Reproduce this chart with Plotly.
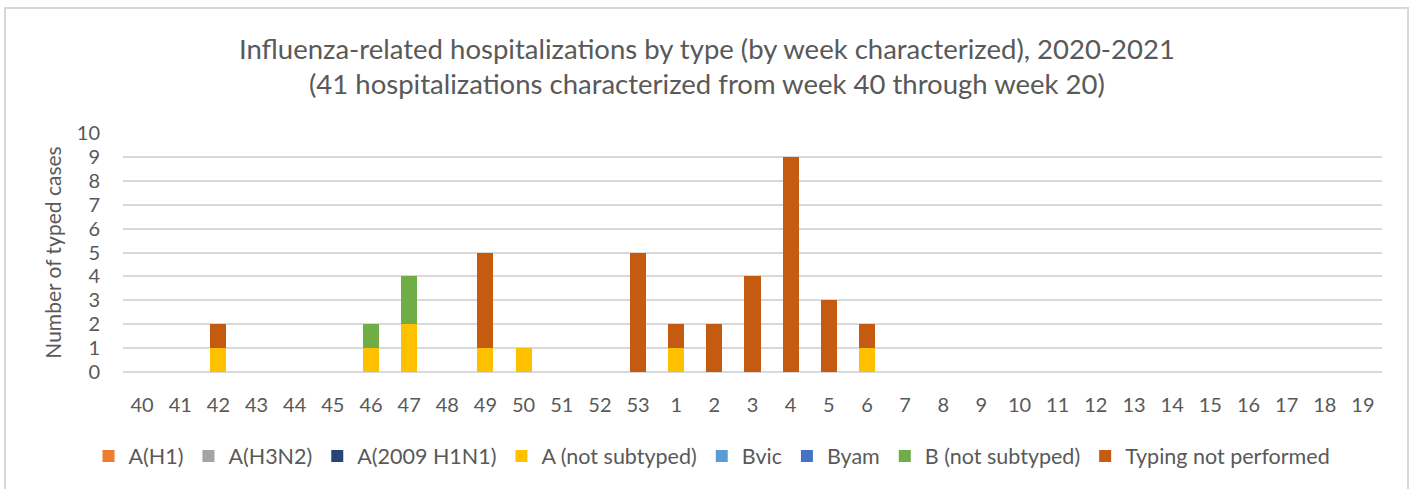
import plotly.graph_objects as go

weeks = ["40", "41", "42", "43", "44", "45", "46", "47", "48", "49", "50", "51", "52", "53",
         "1", "2", "3", "4", "5", "6", "7", "8", "9", "10", "11", "12", "13", "14", "15",
         "16", "17", "18", "19"]

a_h1 =        [0] * 33
a_h3n2 =      [0] * 33
a_2009h1n1 =  [0] * 33
a_not_sub =   [0, 0, 1, 0, 0, 0, 1, 2, 0, 1, 1, 0, 0, 0, 1, 0, 0, 0, 0, 1] + [0] * 13
bvic =        [0] * 33
byam =        [0] * 33
b_not_sub =   [0, 0, 0, 0, 0, 0, 1, 2, 0, 0, 0, 0, 0, 0, 0, 0, 0, 0, 0, 0] + [0] * 13
typing_np =   [0, 0, 1, 0, 0, 0, 0, 0, 0, 4, 0, 0, 0, 5, 1, 2, 4, 9, 3, 1] + [0] * 13

series_names = ["A(H1)", "A(H3N2)", "A(2009 H1N1)", "A (not subtyped)", "Bvic", "Byam",
                "B (not subtyped)", "Typing not performed"]
series_values = [a_h1, a_h3n2, a_2009h1n1, a_not_sub, bvic, byam, b_not_sub, typing_np]
series_colors = ["#ED7D31", "#A5A5A5", "#264478", "#FFC000", "#5B9BD5", "#4472C4",
                 "#70AD47", "#C55A11"]

title_line1 = "Influenza-related hospitalizations by type (by week characterized), 2020-2021"
title_line2 = "(41 hospitalizations characterized from week 40 through week 20)"
y_title = "Number of typed cases"

FONT = "Lato"
GREY = "#595959"

W, H = 1410, 489
L, R, T, B = 123, 28, 133, 117
PW, PH = W - L - R, H - T - B


def px_x(x):
    return (x - L) / PW


def px_y(y):
    return (H - B - y) / PH


fig = go.Figure()
for name, vals, col in zip(series_names, series_values, series_colors):
    fig.add_trace(go.Bar(x=weeks, y=vals, name=name, marker_color=col,
                         marker_line_width=0))

fig.update_layout(
    width=W, height=H,
    margin=dict(l=L, r=R, t=T, b=B, autoexpand=False),
    barmode="stack",
    bargap=0.58,
    plot_bgcolor="white",
    paper_bgcolor="white",
    font=dict(family=FONT, color=GREY, size=20),
    legend=dict(orientation="h", x=px_x(712), xanchor="center", xref="paper",
                y=px_y(456), yanchor="middle", itemwidth=30,
                font=dict(size=21.5, color=GREY), traceorder="normal"),
    showlegend=True,
)

fig.update_xaxes(type="category", categoryorder="array", categoryarray=weeks,
                 tickmode="linear", dtick=1,
                 showgrid=False, showline=False, zeroline=False,
                 ticks="outside", ticklen=15, tickcolor="rgba(0,0,0,0)",
                 tickfont=dict(size=20, color=GREY))
fig.update_yaxes(range=[0, 10], dtick=1, showgrid=True, gridcolor="#D9D9D9",
                 gridwidth=1.5, zeroline=True, zerolinecolor="#D9D9D9",
                 zerolinewidth=1.5, showline=False,
                 ticks="outside", ticklen=18, tickcolor="rgba(0,0,0,0)",
                 tickfont=dict(size=20, color=GREY),
                 title=dict(text=y_title, font=dict(size=21, color=GREY), standoff=9))

fig.add_annotation(text=title_line1, xref="paper", yref="paper", x=px_x(707), y=px_y(48),
                   xanchor="center", yanchor="middle", showarrow=False,
                   font=dict(size=27.5, color=GREY, family=FONT))
fig.add_annotation(text=title_line2, xref="paper", yref="paper", x=px_x(707), y=px_y(83),
                   xanchor="center", yanchor="middle", showarrow=False,
                   font=dict(size=27.5, color=GREY, family=FONT))

fig.add_shape(type="rect", xref="paper", yref="paper",
              x0=px_x(5), x1=px_x(1408), y0=px_y(500), y1=px_y(8),
              line=dict(color="#D9D9D9", width=2), fillcolor="rgba(0,0,0,0)", layer="below")

fig.write_html("out.html", config={"displayModeBar": False},
               post_script="document.body.style.margin='0';document.body.style.overflow='hidden';")
